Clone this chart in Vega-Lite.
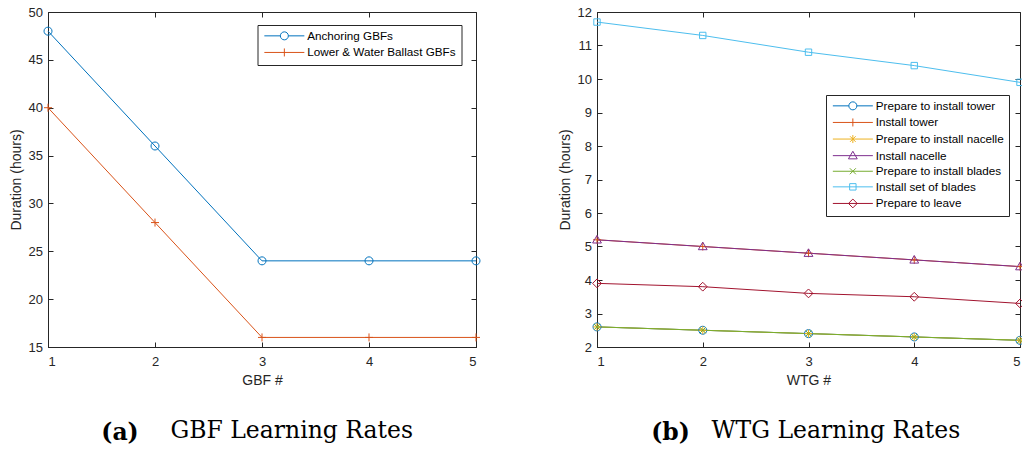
{
  "$schema": "https://vega.github.io/schema/vega-lite/v6.json",
  "padding": {"left": 9, "top": 5, "right": 0, "bottom": 4},
  "spacing": 75,
  "resolve": {"scale": {"color": "independent"}, "legend": {"color": "independent"}},
  "config": {
    "font": "Liberation Sans",
    "view": {"stroke": "#262626", "strokeWidth": 1},
    "axis": {
      "grid": false,
      "tickSize": -5,
      "tickColor": "#262626",
      "domainColor": "#262626",
      "labelColor": "#262626",
      "titleColor": "#262626",
      "labelFont": "Liberation Sans",
      "titleFont": "Liberation Sans",
      "labelFontSize": 13,
      "titleFontSize": 14,
      "labelFontWeight": "normal",
      "titleFontWeight": "normal"
    },
    "point": {"filled": false, "size": 64, "strokeWidth": 1, "opacity": 1},
    "legend": {
      "title": null,
      "orient": "none",
      "symbolSize": 64,
      "symbolStrokeWidth": 1,
      "symbolFillColor": "transparent",
      "symbolOpacity": 1,
      "labelOffset": 33,
      "labelFont": "Liberation Sans",
      "labelFontSize": 11.7,
      "labelFontWeight": "normal",
      "labelColor": "#000000",
      "labelLimit": 300,
      "strokeColor": "#262626",
      "fillColor": "#ffffff",
      "padding": 5,
      "rowPadding": 2.6
    },
    "title": {"font": "DejaVu Serif", "fontSize": 23.5, "color": "#000000", "orient": "bottom"}
  },
  "datasets": {
    "gbf": [
      {"n": 1, "series": "Anchoring GBFs", "hours": 48},
      {"n": 2, "series": "Anchoring GBFs", "hours": 36},
      {"n": 3, "series": "Anchoring GBFs", "hours": 24},
      {"n": 4, "series": "Anchoring GBFs", "hours": 24},
      {"n": 5, "series": "Anchoring GBFs", "hours": 24},
      {"n": 1, "series": "Lower & Water Ballast GBFs", "hours": 40},
      {"n": 2, "series": "Lower & Water Ballast GBFs", "hours": 28},
      {"n": 3, "series": "Lower & Water Ballast GBFs", "hours": 16},
      {"n": 4, "series": "Lower & Water Ballast GBFs", "hours": 16},
      {"n": 5, "series": "Lower & Water Ballast GBFs", "hours": 16}
    ],
    "wtg": [
      {"n": 1, "series": "Prepare to install tower", "hours": 2.6},
      {"n": 2, "series": "Prepare to install tower", "hours": 2.5},
      {"n": 3, "series": "Prepare to install tower", "hours": 2.4},
      {"n": 4, "series": "Prepare to install tower", "hours": 2.3},
      {"n": 5, "series": "Prepare to install tower", "hours": 2.2},
      {"n": 1, "series": "Install tower", "hours": 5.2},
      {"n": 2, "series": "Install tower", "hours": 5.0},
      {"n": 3, "series": "Install tower", "hours": 4.8},
      {"n": 4, "series": "Install tower", "hours": 4.6},
      {"n": 5, "series": "Install tower", "hours": 4.4},
      {"n": 1, "series": "Prepare to install nacelle", "hours": 2.6},
      {"n": 2, "series": "Prepare to install nacelle", "hours": 2.5},
      {"n": 3, "series": "Prepare to install nacelle", "hours": 2.4},
      {"n": 4, "series": "Prepare to install nacelle", "hours": 2.3},
      {"n": 5, "series": "Prepare to install nacelle", "hours": 2.2},
      {"n": 1, "series": "Install nacelle", "hours": 5.2},
      {"n": 2, "series": "Install nacelle", "hours": 5.0},
      {"n": 3, "series": "Install nacelle", "hours": 4.8},
      {"n": 4, "series": "Install nacelle", "hours": 4.6},
      {"n": 5, "series": "Install nacelle", "hours": 4.4},
      {"n": 1, "series": "Prepare to install blades", "hours": 2.6},
      {"n": 2, "series": "Prepare to install blades", "hours": 2.5},
      {"n": 3, "series": "Prepare to install blades", "hours": 2.4},
      {"n": 4, "series": "Prepare to install blades", "hours": 2.3},
      {"n": 5, "series": "Prepare to install blades", "hours": 2.2},
      {"n": 1, "series": "Install set of blades", "hours": 11.7},
      {"n": 2, "series": "Install set of blades", "hours": 11.3},
      {"n": 3, "series": "Install set of blades", "hours": 10.8},
      {"n": 4, "series": "Install set of blades", "hours": 10.4},
      {"n": 5, "series": "Install set of blades", "hours": 9.9},
      {"n": 1, "series": "Prepare to leave", "hours": 3.9},
      {"n": 2, "series": "Prepare to leave", "hours": 3.8},
      {"n": 3, "series": "Prepare to leave", "hours": 3.6},
      {"n": 4, "series": "Prepare to leave", "hours": 3.5},
      {"n": 5, "series": "Prepare to leave", "hours": 3.3}
    ]
  },
  "hconcat": [
    {
      "title": {"text": "GBF Learning Rates", "fontWeight": "normal", "dx": 161, "dy": -30},
      "vconcat": [
        {
          "title": {"text": "(a)", "fontWeight": "bold", "dx": -142, "offset": 34},
          "width": 428,
          "height": 335,
          "data": {"name": "gbf"},
          "encoding": {
            "x": {
              "field": "n", "type": "quantitative",
              "scale": {"domain": [1, 5], "nice": false, "zero": false},
              "axis": null
            },
            "y": {
              "field": "hours", "type": "quantitative",
              "scale": {"domain": [15, 50], "nice": false, "zero": false},
              "axis": null
            },
            "color": {
              "field": "series", "type": "nominal",
              "scale": {"domain": ["Anchoring GBFs", "Lower & Water Ballast GBFs"], "range": ["#0072BD", "#D95319"]},
              "legend": {
                "legendX": 209.5, "legendY": 13,
                "encode": {
                  "symbols": {
                    "update": {
                      "shape": {"signal": "datum.value === 'Anchoring GBFs' ? 'M-1.65,0M-1,0H3M5,0H9M5,0A1,1,0,1,1,3,0A1,1,0,1,1,5,0Z' : 'M-1.65,0M-1,0H9M4,-1V1'"},
                      "fill": {"value": "transparent"},
                      "opacity": {"value": 1}
                    }
                  }
                }
              }
            }
          },
          "layer": [
            {
              "mark": {"type": "line", "strokeWidth": 1},
              "encoding": {
                "x": {
                  "field": "n", "type": "quantitative",
                  "axis": {"orient": "bottom", "title": "GBF #", "values": [1, 2, 3, 4, 5], "format": "d", "labelPadding": 13, "titlePadding": 5}
                },
                "y": {
                  "field": "hours", "type": "quantitative",
                  "axis": {"orient": "left", "title": "Duration (hours)", "values": [15, 20, 25, 30, 35, 40, 45, 50], "labelPadding": 10.6, "titlePadding": 4}
                }
              }
            },
            {
              "transform": [{"filter": "datum.series === 'Anchoring GBFs'"}],
              "mark": {"type": "point", "shape": "M1,0A1,1,0,1,1,-1,0A1,1,0,1,1,1,0Z"},
              "encoding": {
                "x": {
                  "field": "n", "type": "quantitative",
                  "axis": {"orient": "top", "labels": false, "domain": false, "title": null, "values": [1, 2, 3, 4, 5]}
                },
                "y": {
                  "field": "hours", "type": "quantitative",
                  "axis": {"orient": "right", "labels": false, "domain": false, "title": null, "values": [15, 20, 25, 30, 35, 40, 45, 50]}
                }
              }
            },
            {
              "transform": [{"filter": "datum.series === 'Lower & Water Ballast GBFs'"}],
              "mark": {"type": "point", "shape": "M-1,0H1M0,-1V1"}
            }
          ]
        }
      ]
    },
    {
      "title": {"text": "WTG Learning Rates", "fontWeight": "normal", "dx": 153, "dy": -30},
      "vconcat": [
        {
          "title": {"text": "(b)", "fontWeight": "bold", "dx": -138, "offset": 34},
          "width": 423,
          "height": 335,
          "data": {"name": "wtg"},
          "encoding": {
            "x": {
              "field": "n", "type": "quantitative",
              "scale": {"domain": [1, 5], "nice": false, "zero": false},
              "axis": null
            },
            "y": {
              "field": "hours", "type": "quantitative",
              "scale": {"domain": [2, 12], "nice": false, "zero": false},
              "axis": null
            },
            "color": {
              "field": "series", "type": "nominal",
              "scale": {
                "domain": ["Prepare to install tower", "Install tower", "Prepare to install nacelle", "Install nacelle", "Prepare to install blades", "Install set of blades", "Prepare to leave"],
                "range": ["#0072BD", "#D95319", "#EDB120", "#7E2F8E", "#77AC30", "#4DBEEE", "#A2142F"]
              },
              "legend": {
                "legendX": 229, "legendY": 83,
                "encode": {
                  "symbols": {
                    "update": {
                      "shape": {"signal": "datum.value === 'Prepare to install tower' ? 'M-1.65,0M-1,0H3M5,0H9M5,0A1,1,0,1,1,3,0A1,1,0,1,1,5,0Z' : datum.value === 'Install tower' ? 'M-1.65,0M-1,0H9M4,-1V1' : datum.value === 'Prepare to install nacelle' ? 'M-1.65,0M-1,0H9M4,-1V1M3.3,-0.7L4.7,0.7M3.3,0.7L4.7,-0.7' : datum.value === 'Install nacelle' ? 'M-1.65,0M-1,0H9M4,-1.1L5.1,0.8L2.9,0.8Z' : datum.value === 'Prepare to install blades' ? 'M-1.65,0M-1,0H9M3.25,-0.75L4.75,0.75M3.25,0.75L4.75,-0.75' : datum.value === 'Install set of blades' ? 'M-1.65,0M-1,0H9M3.2,-0.8H4.8V0.8H3.2Z' : 'M-1.65,0M-1,0H9M4,-1.1L5.1,0L4,1.1L2.9,0Z'"},
                      "fill": {"value": "transparent"},
                      "opacity": {"value": 1}
                    }
                  }
                }
              }
            }
          },
          "layer": [
            {
              "mark": {"type": "line", "strokeWidth": 1},
              "encoding": {
                "x": {
                  "field": "n", "type": "quantitative",
                  "axis": {"orient": "bottom", "title": "WTG #", "values": [1, 2, 3, 4, 5], "format": "d", "labelPadding": 13, "titlePadding": 5}
                },
                "y": {
                  "field": "hours", "type": "quantitative",
                  "axis": {"orient": "left", "title": "Duration (hours)", "values": [2, 3, 4, 5, 6, 7, 8, 9, 10, 11, 12], "labelPadding": 10.6, "titlePadding": 4}
                }
              }
            },
            {
              "transform": [{"filter": "datum.series === 'Prepare to install tower'"}],
              "mark": {"type": "point", "shape": "M1,0A1,1,0,1,1,-1,0A1,1,0,1,1,1,0Z"},
              "encoding": {
                "x": {
                  "field": "n", "type": "quantitative",
                  "axis": {"orient": "top", "labels": false, "domain": false, "title": null, "values": [1, 2, 3, 4, 5]}
                },
                "y": {
                  "field": "hours", "type": "quantitative",
                  "axis": {"orient": "right", "labels": false, "domain": false, "title": null, "values": [2, 3, 4, 5, 6, 7, 8, 9, 10, 11, 12]}
                }
              }
            },
            {
              "transform": [{"filter": "datum.series === 'Install tower'"}],
              "mark": {"type": "point", "shape": "M-1,0H1M0,-1V1"}
            },
            {
              "transform": [{"filter": "datum.series === 'Prepare to install nacelle'"}],
              "mark": {"type": "point", "shape": "M-1,0H1M0,-1V1M-0.7,-0.7L0.7,0.7M-0.7,0.7L0.7,-0.7"}
            },
            {
              "transform": [{"filter": "datum.series === 'Install nacelle'"}],
              "mark": {"type": "point", "shape": "M0,-1.1L1.1,0.8L-1.1,0.8Z"}
            },
            {
              "transform": [{"filter": "datum.series === 'Prepare to install blades'"}],
              "mark": {"type": "point", "shape": "M-0.75,-0.75L0.75,0.75M-0.75,0.75L0.75,-0.75"}
            },
            {
              "transform": [{"filter": "datum.series === 'Install set of blades'"}],
              "mark": {"type": "point", "shape": "M-0.8,-0.8H0.8V0.8H-0.8Z"}
            },
            {
              "transform": [{"filter": "datum.series === 'Prepare to leave'"}],
              "mark": {"type": "point", "shape": "M0,-1.1L1.1,0L0,1.1L-1.1,0Z"}
            }
          ]
        }
      ]
    }
  ]
}
